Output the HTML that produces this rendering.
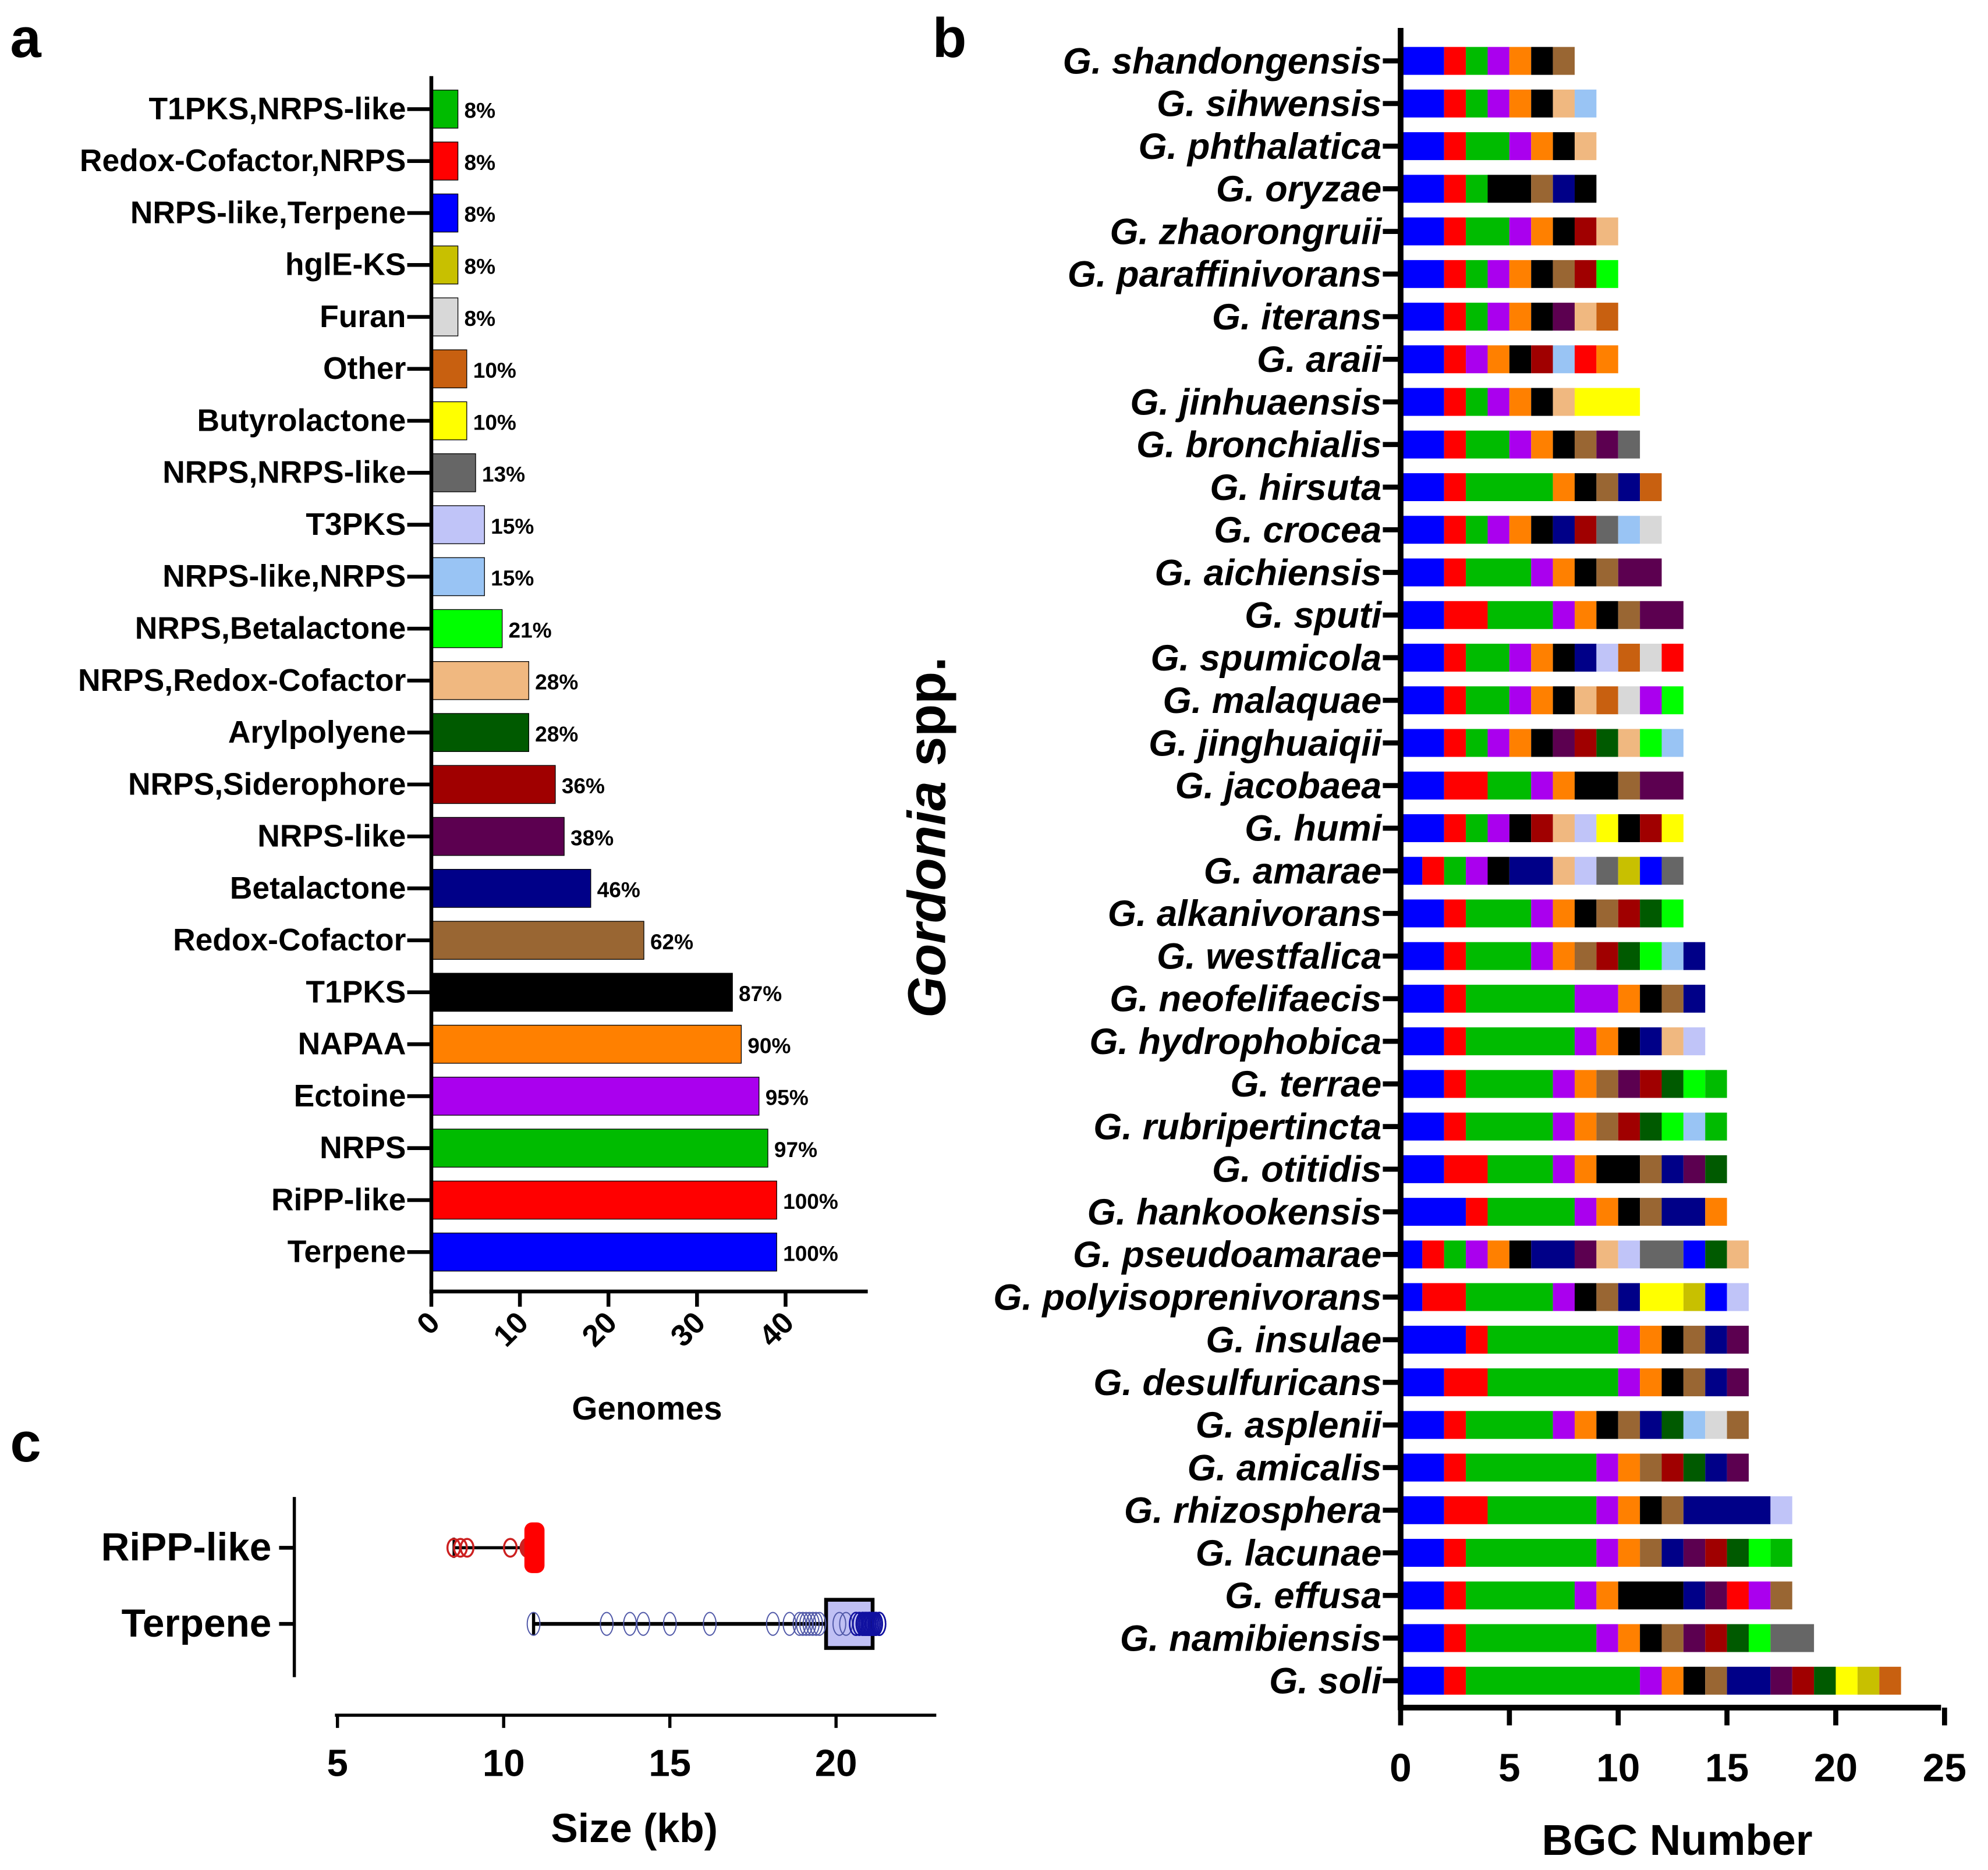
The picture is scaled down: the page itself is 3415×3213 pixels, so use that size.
<!DOCTYPE html>
<html><head><meta charset="utf-8"><style>
html,body{margin:0;padding:0;background:#fff}
svg{display:block}
text{font-family:"Liberation Sans",Arial,sans-serif;font-weight:bold;fill:#000}
</style></head><body>
<svg id="fig" xmlns="http://www.w3.org/2000/svg" width="3415" height="3213" viewBox="0 0 1567 1474" preserveAspectRatio="none">
<g id="pa"></g>
<g id="pb"></g>
<g id="pc"></g>
</svg>
<script>
// ---------- Panel a data ----------
const aCategories = ["T1PKS,NRPS-like","Redox-Cofactor,NRPS","NRPS-like,Terpene","hglE-KS","Furan","Other","Butyrolactone","NRPS,NRPS-like","T3PKS","NRPS-like,NRPS","NRPS,Betalactone","NRPS,Redox-Cofactor","Arylpolyene","NRPS,Siderophore","NRPS-like","Betalactone","Redox-Cofactor","T1PKS","NAPAA","Ectoine","NRPS","RiPP-like","Terpene"];
const aValues = [3,3,3,3,3,4,4,5,6,6,8,11,11,14,15,18,24,34,35,37,38,39,39];
const aPercentLabels = ["8%","8%","8%","8%","8%","10%","10%","13%","15%","15%","21%","28%","28%","36%","38%","46%","62%","87%","90%","95%","97%","100%","100%"];
const aColorKeys = ["N","R","T","H","F","O","U","M","P","Q","G","C","Y","S","L","B","D","K","A","E","N","R","T"];
const aTicks = [0,10,20,30,40];

// ---------- Panel b data ----------
const bSpecies = ["G. shandongensis","G. sihwensis","G. phthalatica","G. oryzae","G. zhaorongruii","G. paraffinivorans","G. iterans","G. araii","G. jinhuaensis","G. bronchialis","G. hirsuta","G. crocea","G. aichiensis","G. sputi","G. spumicola","G. malaquae","G. jinghuaiqii","G. jacobaea","G. humi","G. amarae","G. alkanivorans","G. westfalica","G. neofelifaecis","G. hydrophobica","G. terrae","G. rubripertincta","G. otitidis","G. hankookensis","G. pseudoamarae","G. polyisoprenivorans","G. insulae","G. desulfuricans","G. asplenii","G. amicalis","G. rhizosphera","G. lacunae","G. effusa","G. namibiensis","G. soli"];
const bSegments = [
"T2 R1 N1 E1 A1 K1 D1",
"T2 R1 N1 E1 A1 K1 C1 Q1",
"T2 R1 N2 E1 A1 K1 C1",
"T2 R1 N1 K2 D1 B1 K1",
"T2 R1 N2 E1 A1 K1 S1 C1",
"T2 R1 N1 E1 A1 K1 D1 S1 G1",
"T2 R1 N1 E1 A1 K1 L1 C1 O1",
"T2 R1 E1 A1 K1 S1 Q1 R1 A1",
"T2 R1 N1 E1 A1 K1 C1 U3",
"T2 R1 N2 E1 A1 K1 D1 L1 M1",
"T2 R1 N4 A1 K1 D1 B1 O1",
"T2 R1 N1 E1 A1 K1 B1 S1 M1 Q1 F1",
"T2 R1 N3 E1 A1 K1 D1 L2",
"T2 R2 N3 E1 A1 K1 D1 L2",
"T2 R1 N2 E1 A1 K1 B1 P1 O1 F1 R1",
"T2 R1 N2 E1 A1 K1 C1 O1 F1 E1 G1",
"T2 R1 N1 E1 A1 K1 L1 S1 Y1 C1 G1 Q1",
"T2 R2 N2 E1 A1 K2 D1 L2",
"T2 R1 N1 E1 K1 S1 C1 P1 U1 K1 S1 U1",
"T1 R1 N1 E1 K1 B2 C1 P1 M1 H1 T1 M1",
"T2 R1 N3 E1 A1 K1 D1 S1 Y1 G1",
"T2 R1 N3 E1 A1 D1 S1 Y1 G1 Q1 B1",
"T2 R1 N5 E2 A1 K1 D1 B1",
"T2 R1 N5 E1 A1 K1 B1 C1 P1",
"T2 R1 N4 E1 A1 D1 L1 S1 Y1 G1 N1",
"T2 R1 N4 E1 A1 D1 S1 Y1 G1 Q1 N1",
"T2 R2 N3 E1 A1 K2 D1 B1 L1 Y1",
"T3 R1 N4 E1 A1 K1 D1 B2 A1",
"T1 R1 N1 E1 A1 K1 B2 L1 C1 P1 M2 T1 Y1 C1",
"T1 R2 N4 E1 K1 D1 B1 U2 H1 T1 P1",
"T3 R1 N6 E1 A1 K1 D1 B1 L1",
"T2 R2 N6 E1 A1 K1 D1 B1 L1",
"T2 R1 N4 E1 A1 K1 D1 B1 Y1 Q1 F1 D1",
"T2 R1 N6 E1 A1 D1 S1 Y1 B1 L1",
"T2 R2 N5 E1 A1 K1 D1 B4 P1",
"T2 R1 N6 E1 A1 D1 B1 L1 S1 Y1 G1 N1",
"T2 R1 N5 E1 A1 K3 B1 L1 R1 E1 D1",
"T2 R1 N6 E1 A1 K1 D1 L1 S1 Y1 G1 M2",
"T2 R1 N8 E1 A1 K1 D1 B2 L1 S1 Y1 U1 H1 O1"];
const bTicks = [0,5,10,15,20,25];

// ---------- Panel c data ----------
const cGroups = ["RiPP-like","Terpene"];
const cRippPoints = [8.5,8.7,8.9,10.2,10.7,10.75,10.8,10.8,10.85,10.85,10.9,10.9,10.9,10.95,10.95,11.0];
const cRippStats = [8.5,10.7,10.85,10.95,11.0]; // min,q1,median,q3,max
const cTerpPoints = [10.9,13.1,13.8,14.2,15.0,16.2,18.1,18.6,18.9,19.0,19.1,19.2,19.3,19.4,19.5,20.1,20.3,20.6,20.7,20.8,20.85,20.9,20.95,21.0,21.0,21.05,21.1,21.1,21.15,21.2,21.2,21.3,21.3,20.9,21.0,20.8];
const cTerpStats = [10.9,19.7,20.9,21.1,21.3];
const cTicks = [5,10,15,20];

const COL = {T:"#0000ff",R:"#ff0000",N:"#00bb00",E:"#aa00ee",A:"#ff8000",K:"#000000",D:"#996633",B:"#000088",L:"#5c0050",S:"#a00000",Y:"#005a00",C:"#f0b880",G:"#00ff00",Q:"#99c4f4",P:"#c0c4f8",M:"#666666",U:"#ffff00",O:"#c86010",F:"#d8d8d8",H:"#c8c000"};
const NS="http://www.w3.org/2000/svg";
function mk(parent,tag,attrs,txt){const e=document.createElementNS(NS,tag);for(const k in attrs)e.setAttribute(k,attrs[k]);if(txt!==undefined)e.textContent=txt;parent.appendChild(e);return e;}

// ---------- Panel a ----------
const pa=document.getElementById('pa');
let t=mk(pa,'text',{x:8,y:45,'font-size':44},'a');


const ax=v=>340+v*6.98, ay=i=>86+i*40.95;
aValues.forEach((v,i)=>{
  const r=mk(pa,'rect',{x:341,y:ay(i)-15,width:ax(v)-341,height:30,fill:COL[aColorKeys[i]],stroke:'#000','stroke-width':0.6});
  
  
  const l=mk(pa,'text',{x:320,y:ay(i)+8,'font-size':24.5,'text-anchor':'end'},aCategories[i]);
  
  
  mk(pa,'line',{x1:321,x2:340,y1:ay(i),y2:ay(i),stroke:'#000','stroke-width':3});
  const p=mk(pa,'text',{x:ax(v)+5,y:ay(i)+7,'font-size':17},aPercentLabels[i]);
  
  
});
mk(pa,'line',{x1:340,x2:340,y1:60,y2:1020,stroke:'#000','stroke-width':3});
mk(pa,'line',{x1:338.5,x2:684,y1:1018,y2:1018,stroke:'#000','stroke-width':3});
aTicks.forEach(v=>{
  mk(pa,'line',{x1:ax(v),x2:ax(v),y1:1018,y2:1030,stroke:'#000','stroke-width':3});
  const tl=mk(pa,'text',{x:ax(v)+8,y:1044,'font-size':24,'text-anchor':'end',transform:`rotate(-45 ${ax(v)+8} 1044)`},String(v));
  
  
});
t=mk(pa,'text',{x:510,y:1119,'font-size':26,'text-anchor':'middle'},'Genomes');



// ---------- Panel b ----------
const pb=document.getElementById('pb');
t=mk(pb,'text',{x:735,y:45,'font-size':44},'b');


const bx=v=>1104+v*17.15, by=i=>48+i*33.6;
bSpecies.forEach((s,i)=>{
  let cum=0;
  bSegments[i].split(' ').forEach(seg=>{
    const k=seg[0], n=+seg.slice(1);
    const r=mk(pb,'rect',{x:bx(cum),y:by(i)-11,width:bx(cum+n)-bx(cum),height:22,fill:COL[k]});
    
    
    cum+=n;
  });
  const l=mk(pb,'text',{x:1089,y:by(i)+10,'font-size':29,'text-anchor':'end','font-style':'italic'},s);
  
  
  mk(pb,'line',{x1:1090,x2:1104,y1:by(i),y2:by(i),stroke:'#000','stroke-width':4});
});
mk(pb,'line',{x1:1104,x2:1104,y1:22,y2:1348,stroke:'#000','stroke-width':4.5});
mk(pb,'line',{x1:1102,x2:1530,y1:1346,y2:1346,stroke:'#000','stroke-width':4.5});
bTicks.forEach(v=>{
  mk(pb,'line',{x1:bx(v),x2:bx(v),y1:1346,y2:1360,stroke:'#000','stroke-width':4});
  const tl=mk(pb,'text',{x:bx(v),y:1404,'font-size':31,'text-anchor':'middle'},String(v));
  
  
});
t=mk(pb,'text',{x:1322,y:1462,'font-size':34,'text-anchor':'middle'},'BGC Number');


t=mk(pb,'text',{x:0,y:0,'font-size':42,'text-anchor':'middle',transform:'translate(745 660) rotate(-90)'});


mk(t,'tspan',{'font-style':'italic'},'Gordonia');
mk(t,'tspan',{},' spp.');

// ---------- Panel c ----------
const pc=document.getElementById('pc');
t=mk(pc,'text',{x:8,y:1152,'font-size':44},'c');


const cx=v=>266+(v-5)*26.2, cy=[1220,1280];
mk(pc,'line',{x1:232,x2:232,y1:1180,y2:1322,stroke:'#000','stroke-width':2.5});
cGroups.forEach((g,i)=>{
  mk(pc,'line',{x1:220,x2:232,y1:cy[i],y2:cy[i],stroke:'#000','stroke-width':3});
  const l=mk(pc,'text',{x:214,y:cy[i]+10,'font-size':31,'text-anchor':'end'},g);
  
  
});
mk(pc,'line',{x1:264,x2:738,y1:1352,y2:1352,stroke:'#000','stroke-width':2.5});
cTicks.forEach(v=>{
  mk(pc,'line',{x1:cx(v),x2:cx(v),y1:1352,y2:1362,stroke:'#000','stroke-width':2.5});
  const tl=mk(pc,'text',{x:cx(v),y:1400,'font-size':30,'text-anchor':'middle'},String(v));
  
  
});
t=mk(pc,'text',{x:500,y:1452,'font-size':32,'text-anchor':'middle'},'Size (kb)');


// RiPP
const rs=cRippStats;
mk(pc,'line',{x1:cx(rs[0]),x2:cx(rs[4]),y1:cy[0],y2:cy[0],stroke:'#000','stroke-width':2.5});
mk(pc,'line',{x1:cx(rs[0]),x2:cx(rs[0]),y1:cy[0]-8,y2:cy[0]+8,stroke:'#000','stroke-width':2});
cRippPoints.forEach(v=>{
  const c=mk(pc,'ellipse',{cx:cx(v),cy:cy[0],rx:5,ry:7,fill:v>10.5?'#ff0000':'none',stroke:'#cc2020','stroke-width':1.6});
  
  
});
mk(pc,'rect',{x:cx(rs[1])-2,y:cy[0]-20,width:cx(rs[4])-cx(rs[1])+8,height:40,rx:6,fill:'#ff0000'});
// Terpene
const ts=cTerpStats;
mk(pc,'line',{x1:cx(ts[0]),x2:cx(ts[1]),y1:cy[1],y2:cy[1],stroke:'#000','stroke-width':3});
mk(pc,'line',{x1:cx(ts[0]),x2:cx(ts[0]),y1:cy[1]-9,y2:cy[1]+9,stroke:'#000','stroke-width':2.5});
const bxr=mk(pc,'rect',{x:cx(ts[1]),y:cy[1]-19,width:cx(ts[3])-cx(ts[1]),height:38,fill:'#c0c0f4',stroke:'#000','stroke-width':3});


cTerpPoints.forEach(v=>{
  const c=mk(pc,'ellipse',{cx:cx(v),cy:cy[1],rx:5,ry:9,fill:'none',stroke:v>20.5?'#1010a0':'#5058a8','stroke-width':v>20.5?1.2:0.9});
  
  
});
</script>
</body></html>
